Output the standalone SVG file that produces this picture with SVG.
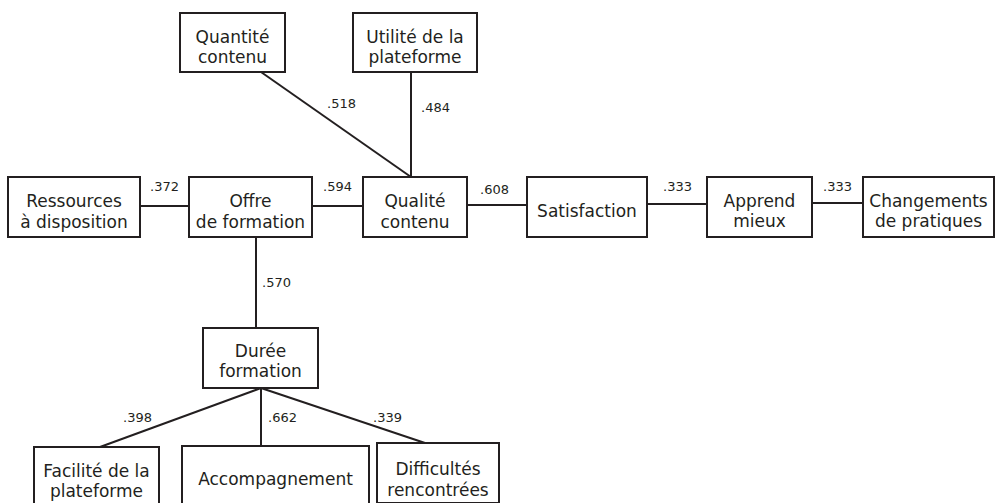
<svg xmlns="http://www.w3.org/2000/svg" width="995" height="503" viewBox="0 0 995 503">
<style>
.box{fill:#fff;stroke:#231f20;stroke-width:2}
.lbl{font-family:"DejaVu Sans","Open Sans","Liberation Sans",sans-serif;font-size:17px;fill:#231f20;text-anchor:middle}
.num{font-family:"DejaVu Sans","Open Sans","Liberation Sans",sans-serif;font-size:13px;fill:#231f20}
.con line{stroke:#231f20;stroke-width:2}
</style>
<rect width="995" height="503" fill="#fff"/>
<g class="con" id="connectors">
<line x1="261" y1="72" x2="411" y2="177"/>
<line x1="411" y1="72" x2="411" y2="177"/>
<line x1="140" y1="206" x2="189" y2="206"/>
<line x1="312" y1="206" x2="363" y2="206"/>
<line x1="467" y1="205" x2="527" y2="205"/>
<line x1="647" y1="204" x2="707" y2="204"/>
<line x1="812" y1="203" x2="863" y2="203"/>
<line x1="256" y1="237" x2="256" y2="328"/>
<line x1="261" y1="388" x2="100" y2="447"/>
<line x1="261" y1="388" x2="261" y2="446"/>
<line x1="261" y1="388" x2="425" y2="443"/>
<text class="num" x="327" y="108">.518</text>
<text class="num" x="421" y="112">.484</text>
<text class="num" x="150" y="191">.372</text>
<text class="num" x="323" y="191">.594</text>
<text class="num" x="480" y="194">.608</text>
<text class="num" x="663" y="191">.333</text>
<text class="num" x="823" y="191">.333</text>
<text class="num" x="262" y="287">.570</text>
<text class="num" x="123" y="422">.398</text>
<text class="num" x="268" y="422">.662</text>
<text class="num" x="373" y="422">.339</text>
</g>
<g id="quantite"><rect class="box" x="180" y="13" width="105" height="59"/><text class="lbl" x="232.5" y="43">Quantité</text><text class="lbl" x="232.5" y="63">contenu</text></g>
<g id="utilite"><rect class="box" x="353" y="13" width="124" height="59"/><text class="lbl" x="415" y="43">Utilité de la</text><text class="lbl" x="415" y="63">plateforme</text></g>
<g id="ressources"><rect class="box" x="8" y="177" width="132" height="60"/><text class="lbl" x="74" y="207">Ressources</text><text class="lbl" x="74" y="228">à disposition</text></g>
<g id="offre"><rect class="box" x="189" y="177" width="123" height="60"/><text class="lbl" x="250.5" y="207">Offre</text><text class="lbl" x="250.5" y="228">de formation</text></g>
<g id="qualite"><rect class="box" x="363" y="177" width="104" height="60"/><text class="lbl" x="415" y="207">Qualité</text><text class="lbl" x="415" y="228">contenu</text></g>
<g id="satisfaction"><rect class="box" x="527" y="177" width="120" height="60"/><text class="lbl" x="587" y="217">Satisfaction</text></g>
<g id="apprend"><rect class="box" x="707" y="177" width="105" height="60"/><text class="lbl" x="759.5" y="207">Apprend</text><text class="lbl" x="759.5" y="227">mieux</text></g>
<g id="changements"><rect class="box" x="863" y="177" width="131" height="60"/><text class="lbl" x="928.5" y="207">Changements</text><text class="lbl" x="928.5" y="227">de pratiques</text></g>
<g id="duree"><rect class="box" x="203" y="328" width="115" height="60"/><text class="lbl" x="260.5" y="357">Durée</text><text class="lbl" x="260.5" y="377">formation</text></g>
<g id="facilite"><rect class="box" x="34" y="447" width="125" height="60"/><text class="lbl" x="96.5" y="477">Facilité de la</text><text class="lbl" x="96.5" y="497">plateforme</text></g>
<g id="accompagnement"><rect class="box" x="182" y="446" width="187" height="60"/><text class="lbl" x="275.5" y="485">Accompagnement</text></g>
<g id="difficultes"><rect class="box" x="377" y="443" width="122" height="60"/><text class="lbl" x="438" y="475">Difficultés</text><text class="lbl" x="438" y="496">rencontrées</text></g>
</svg>
